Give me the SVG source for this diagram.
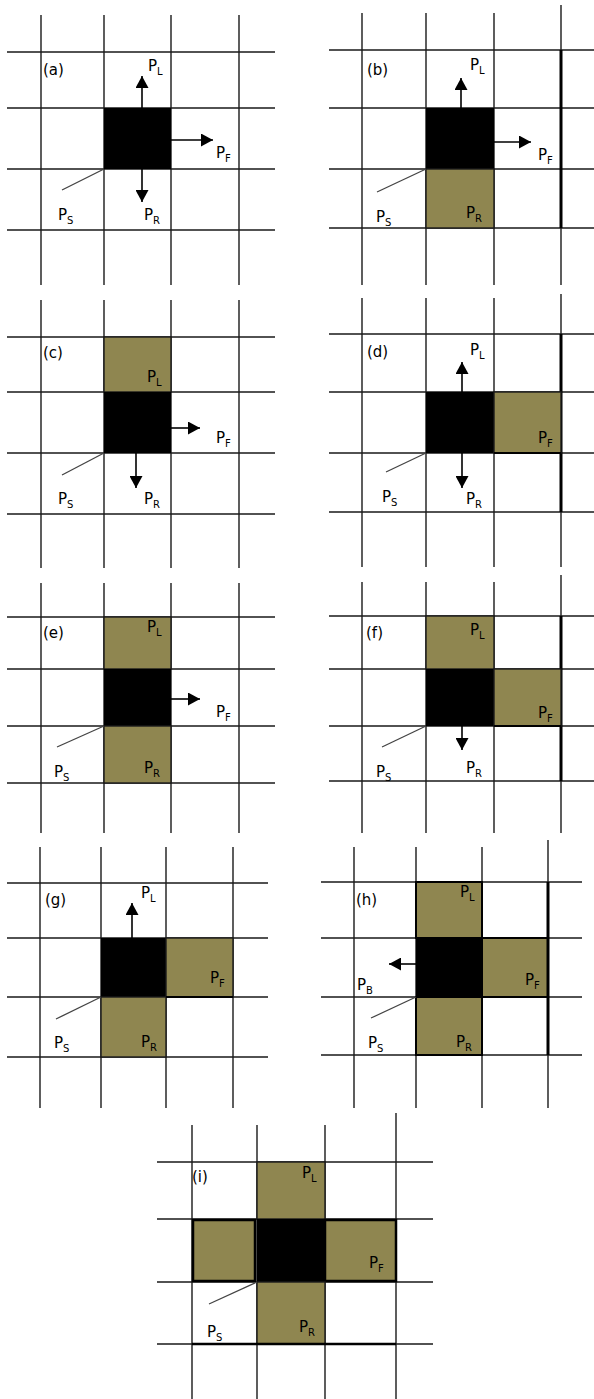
<svg xmlns="http://www.w3.org/2000/svg" width="594" height="1399" viewBox="0 0 594 1399">
<style>
.g{stroke:#1a1a1a;stroke-width:1.4;fill:none}
.tk{stroke:#000;stroke-width:3;fill:none}
.blk{fill:#000}
.tan{fill:#8f8650;stroke:#1a1a1a;stroke-width:1.4}
.tanb{fill:#8f8650;stroke:#000;stroke-width:2.5}
text{font-family:"DejaVu Sans","Liberation Sans",sans-serif;font-size:15px;fill:#000}
.sub{font-size:10px}
.arr{stroke:#000;stroke-width:1.6;fill:none;marker-end:url(#ah)}
.ps{stroke:#444;stroke-width:1.3;fill:none}
</style>
<defs>
<marker id="ah" markerUnits="userSpaceOnUse" markerWidth="13" markerHeight="13" refX="12" refY="6.5" orient="auto">
<path d="M0,0 L12,6.5 L0,13 z" fill="#000"/>
</marker>
</defs>
<rect width="594" height="1399" fill="#fff"/>

<g id="panel-a">
<path class="g" d="M41,15V285M104,15V285M171,15V285M239,15V285M7,52H275M7,108H275M7,169H275M7,230H275"/>
<rect class="blk" x="104" y="108" width="67" height="61"/>
<text x="43" y="75">(a)</text>
<text x="148" y="71">P<tspan class="sub" dy="4">L</tspan></text>
<text x="216" y="158">P<tspan class="sub" dy="4">F</tspan></text>
<text x="144" y="220">P<tspan class="sub" dy="4">R</tspan></text>
<text x="58" y="220">P<tspan class="sub" dy="4">S</tspan></text>
</g>

<g id="panel-b">
<path class="g" d="M362,13V285M426,13V285M494,13V285M561,5V285M329,50H594M329,108H594M329,169H594M329,228H594"/>
<path class="tk" d="M561,50V228"/>
<rect class="blk" x="426" y="108" width="68" height="61"/>
<rect class="tan" x="426" y="169" width="68" height="59"/>
<text x="367" y="75">(b)</text>
<text x="470" y="70">P<tspan class="sub" dy="4">L</tspan></text>
<text x="538" y="160">P<tspan class="sub" dy="4">F</tspan></text>
<text x="466" y="218">P<tspan class="sub" dy="4">R</tspan></text>
<text x="376" y="222">P<tspan class="sub" dy="4">S</tspan></text>
</g>

<g id="panel-c">
<path class="g" d="M41,300V568M104,300V568M171,300V568M239,300V568M7,337H275M7,392H275M7,453H275M7,514H275"/>
<rect class="tan" x="104" y="337" width="67" height="55"/>
<rect class="blk" x="104" y="392" width="67" height="61"/>
<text x="43" y="358">(c)</text>
<text x="147" y="382">P<tspan class="sub" dy="4">L</tspan></text>
<text x="216" y="443">P<tspan class="sub" dy="4">F</tspan></text>
<text x="144" y="504">P<tspan class="sub" dy="4">R</tspan></text>
<text x="58" y="504">P<tspan class="sub" dy="4">S</tspan></text>
</g>

<g id="panel-d">
<path class="g" d="M362,298V567M426,298V567M494,298V567M561,294V567M329,334H594M329,392H594M329,453H594M329,512H594"/>
<path class="tk" d="M561,334V512"/>
<rect class="blk" x="426" y="392" width="68" height="61"/>
<rect class="tan" x="494" y="392" width="67" height="61"/>
<path class="tk" d="M494,453H561" style="stroke-width:2"/>
<text x="367" y="357">(d)</text>
<text x="470" y="355">P<tspan class="sub" dy="4">L</tspan></text>
<text x="538" y="443">P<tspan class="sub" dy="4">F</tspan></text>
<text x="466" y="504">P<tspan class="sub" dy="4">R</tspan></text>
<text x="382" y="502">P<tspan class="sub" dy="4">S</tspan></text>
</g>

<g id="panel-e">
<path class="g" d="M41,583V833M104,583V833M171,583V833M239,583V833M7,617H275M7,669H275M7,726H275M7,783H275"/>
<rect class="tan" x="104" y="617" width="67" height="52"/>
<rect class="blk" x="104" y="669" width="67" height="57"/>
<rect class="tan" x="104" y="726" width="67" height="57"/>
<text x="43" y="638">(e)</text>
<text x="147" y="632">P<tspan class="sub" dy="4">L</tspan></text>
<text x="216" y="717">P<tspan class="sub" dy="4">F</tspan></text>
<text x="144" y="773">P<tspan class="sub" dy="4">R</tspan></text>
<text x="54" y="777">P<tspan class="sub" dy="4">S</tspan></text>
</g>

<g id="panel-f">
<path class="g" d="M362,582V833M426,582V833M494,582V833M561,575V833M329,616H594M329,669H594M329,726H594M329,781H594"/>
<path class="tk" d="M561,616V781"/>
<rect class="tan" x="426" y="616" width="68" height="53"/>
<rect class="blk" x="426" y="669" width="68" height="57"/>
<rect class="tan" x="494" y="669" width="67" height="57"/>
<path class="tk" d="M494,726H561" style="stroke-width:2"/>
<text x="366" y="638">(f)</text>
<text x="470" y="635">P<tspan class="sub" dy="4">L</tspan></text>
<text x="538" y="718">P<tspan class="sub" dy="4">F</tspan></text>
<text x="466" y="773">P<tspan class="sub" dy="4">R</tspan></text>
<text x="376" y="777">P<tspan class="sub" dy="4">S</tspan></text>
</g>

<g id="panel-g">
<path class="g" d="M40,847V1108M101,847V1108M166,847V1108M233,847V1108M7,883H268M7,938H268M7,997H268M7,1057H268"/>
<rect class="blk" x="101" y="938" width="65" height="59"/>
<rect class="tan" x="166" y="938" width="67" height="59"/>
<rect class="tan" x="101" y="997" width="65" height="60"/>
<path class="tk" d="M166,997H233" style="stroke-width:2"/>
<text x="45" y="905">(g)</text>
<text x="141" y="898">P<tspan class="sub" dy="4">L</tspan></text>
<text x="210" y="983">P<tspan class="sub" dy="4">F</tspan></text>
<text x="141" y="1047">P<tspan class="sub" dy="4">R</tspan></text>
<text x="54" y="1048">P<tspan class="sub" dy="4">S</tspan></text>
</g>

<g id="panel-h">
<path class="g" d="M354,847V1108M416,847V1108M482,847V1108M548,840V1108M321,882H582M321,938H582M321,997H582M321,1055H582"/>
<rect class="tan" x="416" y="882" width="66" height="56" style="stroke:#000;stroke-width:2"/>
<rect class="blk" x="416" y="938" width="66" height="59"/>
<rect class="tan" x="482" y="938" width="66" height="59" style="stroke:#000;stroke-width:2"/>
<rect class="tan" x="416" y="997" width="66" height="58" style="stroke:#000;stroke-width:2"/>
<path class="tk" d="M548,882V1055"/>
<text x="356" y="905">(h)</text>
<text x="460" y="897">P<tspan class="sub" dy="4">L</tspan></text>
<text x="357" y="990">P<tspan class="sub" dy="4">B</tspan></text>
<text x="525" y="985">P<tspan class="sub" dy="4">F</tspan></text>
<text x="456" y="1047">P<tspan class="sub" dy="4">R</tspan></text>
<text x="368" y="1048">P<tspan class="sub" dy="4">S</tspan></text>
</g>

<g id="panel-i">
<path class="g" d="M192,1125V1399M257,1125V1399M325,1125V1399M396,1113V1399M157,1162H433M157,1219H433M157,1282H433M157,1344H433"/>
<rect class="tan" x="257" y="1162" width="68" height="57"/>
<rect class="tanb" x="193" y="1220" width="62" height="61"/>
<rect class="blk" x="257" y="1219" width="68" height="63"/>
<rect class="tanb" x="325" y="1220" width="71" height="61"/>
<rect class="tan" x="257" y="1282" width="68" height="62"/>
<path class="tk" d="M192,1344H396" style="stroke-width:2.5"/>
<text x="192" y="1182">(i)</text>
<text x="302" y="1178">P<tspan class="sub" dy="4">L</tspan></text>
<text x="369" y="1268">P<tspan class="sub" dy="4">F</tspan></text>
<text x="299" y="1332">P<tspan class="sub" dy="4">R</tspan></text>
<text x="207" y="1337">P<tspan class="sub" dy="4">S</tspan></text>
</g>

<g id="connectors">
<path class="arr" d="M142,108V76"/>
<path class="arr" d="M171,140H213"/>
<path class="arr" d="M142,169V202"/>
<path class="ps" d="M104,169L62,190"/>

<path class="arr" d="M461,108V78"/>
<path class="arr" d="M494,142H531"/>
<path class="ps" d="M426,169L377,192"/>

<path class="arr" d="M171,428H200"/>
<path class="arr" d="M136,453V488"/>
<path class="ps" d="M104,453L62,475"/>

<path class="arr" d="M462,392V362"/>
<path class="arr" d="M462,453V488"/>
<path class="ps" d="M426,453L386,472"/>

<path class="arr" d="M171,699H200"/>
<path class="ps" d="M104,726L57,747"/>

<path class="arr" d="M462,726V750"/>
<path class="ps" d="M426,726L382,747"/>

<path class="arr" d="M132,938V903"/>
<path class="ps" d="M101,997L56,1019"/>

<path class="arr" d="M416,964H389"/>
<path class="ps" d="M416,997L371,1018"/>

<path class="ps" d="M257,1282L209,1304"/>
</g>
</svg>
